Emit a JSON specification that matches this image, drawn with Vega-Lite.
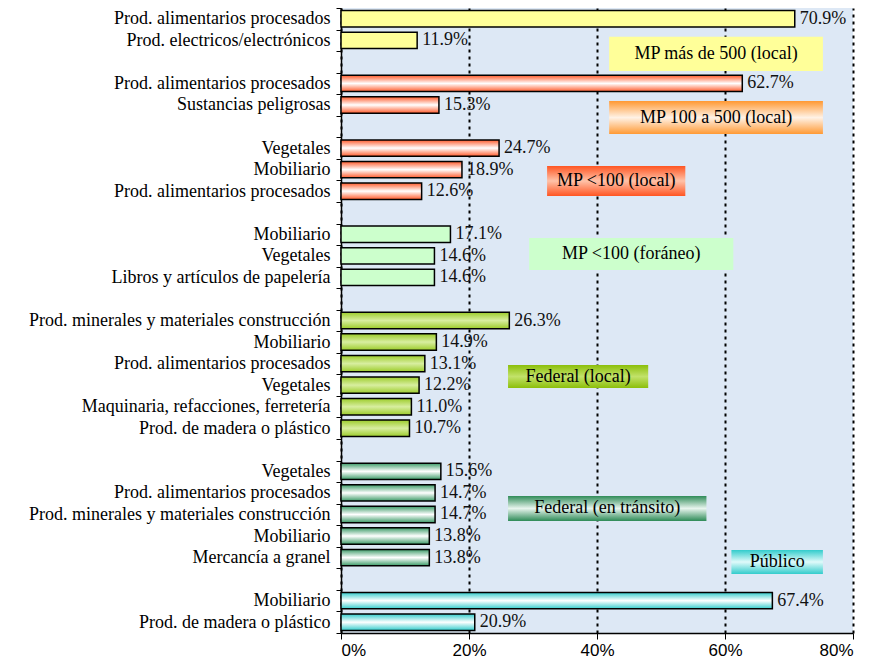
{
  "$schema": "https://vega.github.io/schema/vega-lite/v6.json",
  "autosize": {"type": "none"},
  "padding": {"left": 341, "top": 8, "right": 20, "bottom": 36},
  "width": 512,
  "height": 625,
  "background": "white",
  "config": {"view": {"stroke": null, "fill": "#dde8f5"}},
  "datasets": {
    "bars": [
      {"k": "01 Prod. alimentarios procesados", "g": "A", "v": 0.709},
      {"k": "02 Prod. electricos/electrónicos", "g": "A", "v": 0.119},
      {"k": "04 Prod. alimentarios procesados", "g": "B", "v": 0.627},
      {"k": "05 Sustancias peligrosas", "g": "B", "v": 0.153},
      {"k": "07 Vegetales", "g": "C", "v": 0.247},
      {"k": "08 Mobiliario", "g": "C", "v": 0.189},
      {"k": "09 Prod. alimentarios procesados", "g": "C", "v": 0.126},
      {"k": "11 Mobiliario", "g": "D", "v": 0.171},
      {"k": "12 Vegetales", "g": "D", "v": 0.146},
      {"k": "13 Libros y artículos de papelería", "g": "D", "v": 0.146},
      {"k": "15 Prod. minerales y materiales construcción", "g": "E", "v": 0.263},
      {"k": "16 Mobiliario", "g": "E", "v": 0.149},
      {"k": "17 Prod. alimentarios procesados", "g": "E", "v": 0.131},
      {"k": "18 Vegetales", "g": "E", "v": 0.122},
      {"k": "19 Maquinaria, refacciones, ferretería", "g": "E", "v": 0.110},
      {"k": "20 Prod. de madera o plástico", "g": "E", "v": 0.107},
      {"k": "22 Vegetales", "g": "F", "v": 0.156},
      {"k": "23 Prod. alimentarios procesados", "g": "F", "v": 0.147},
      {"k": "24 Prod. minerales y materiales construcción", "g": "F", "v": 0.147},
      {"k": "25 Mobiliario", "g": "F", "v": 0.138},
      {"k": "26 Mercancía a granel", "g": "F", "v": 0.138},
      {"k": "28 Mobiliario", "g": "G", "v": 0.674},
      {"k": "29 Prod. de madera o plástico", "g": "G", "v": 0.209}
    ],
    "boxes": [
      {"label": "MP más de 500 (local)", "g": "A", "x1": 0.419, "x2": 0.753, "r1": 1.33, "r2": 2.92},
      {"label": "MP 100 a 500 (local)", "g": "B", "x1": 0.419, "x2": 0.753, "r1": 4.32, "r2": 5.85},
      {"label": "MP <100 (local)", "g": "C", "x1": 0.322, "x2": 0.538, "r1": 7.33, "r2": 8.72},
      {"label": "MP <100 (foráneo)", "g": "D", "x1": 0.294, "x2": 0.613, "r1": 10.67, "r2": 12.16},
      {"label": "Federal (local)", "g": "E", "x1": 0.261, "x2": 0.48, "r1": 16.57, "r2": 17.63},
      {"label": "Federal (en  tránsito)", "g": "F", "x1": 0.261, "x2": 0.571, "r1": 22.64, "r2": 23.8},
      {"label": "Público", "g": "G", "x1": 0.61, "x2": 0.753, "r1": 25.15, "r2": 26.26}
    ]
  },
  "layer": [
    {
      "data": {"name": "bars"},
      "encoding": {
        "y": {
          "field": "k", "type": "nominal", "sort": null,
          "scale": {
            "domain": ["01 Prod. alimentarios procesados", "02 Prod. electricos/electrónicos", "03 ", "04 Prod. alimentarios procesados", "05 Sustancias peligrosas", "06 ", "07 Vegetales", "08 Mobiliario", "09 Prod. alimentarios procesados", "10 ", "11 Mobiliario", "12 Vegetales", "13 Libros y artículos de papelería", "14 ", "15 Prod. minerales y materiales construcción", "16 Mobiliario", "17 Prod. alimentarios procesados", "18 Vegetales", "19 Maquinaria, refacciones, ferretería", "20 Prod. de madera o plástico", "21 ", "22 Vegetales", "23 Prod. alimentarios procesados", "24 Prod. minerales y materiales construcción", "25 Mobiliario", "26 Mercancía a granel", "27 ", "28 Mobiliario", "29 Prod. de madera o plástico"],
            "paddingInner": 0, "paddingOuter": 0
          },
          "axis": {
            "title": null, "labelExpr": "datum.value ? substring(datum.value, 3) : ''", "tickBand": "extent",
            "labelFont": "Times New Roman, Liberation Serif, serif", "labelFontSize": 18, "labelColor": "black",
            "labelLimit": 0, "labelPadding": 6, "tickSize": 5, "tickColor": "black",
            "domainColor": "black", "domainWidth": 1.5, "grid": false
          }
        },
        "x": {
          "field": "v", "type": "quantitative",
          "scale": {"domain": [0, 0.8], "nice": false},
          "axis": {
            "title": null, "values": [0, 0.2, 0.4, 0.6, 0.8], "format": ".0%",
            "labelFont": "Liberation Sans", "labelFontSize": 17, "labelColor": "black",
            "tickSize": 6, "tickColor": "black", "domainColor": "black", "domainWidth": 1.5,
            "labelPadding": 3, "grid": true, "gridColor": "black", "gridWidth": 2, "gridDash": [3, 4], "gridOpacity": 1
          }
        }
      },
      "layer": [
        {
          "transform": [{"filter": "datum.g == 'A'"}],
          "mark": {"type": "bar", "height": {"band": 0.76}, "stroke": "black", "strokeWidth": 1.5, "fill": "#ffff99"}
        },
        {
          "transform": [{"filter": "datum.g == 'B' || datum.g == 'C'"}],
          "mark": {"type": "bar", "height": {"band": 0.76}, "stroke": "black", "strokeWidth": 1.5,
            "fill": {"gradient": "linear", "x1": 0, "y1": 0, "x2": 0, "y2": 1, "stops": [{"offset": 0, "color": "#ff5a2a"}, {"offset": 0.5, "color": "#ffffff"}, {"offset": 1, "color": "#ff5a2a"}]}}
        },
        {
          "transform": [{"filter": "datum.g == 'D'"}],
          "mark": {"type": "bar", "height": {"band": 0.76}, "stroke": "black", "strokeWidth": 1.5, "fill": "#ccffcc"}
        },
        {
          "transform": [{"filter": "datum.g == 'E'"}],
          "mark": {"type": "bar", "height": {"band": 0.76}, "stroke": "black", "strokeWidth": 1.5,
            "fill": {"gradient": "linear", "x1": 0, "y1": 0, "x2": 0, "y2": 1, "stops": [{"offset": 0, "color": "#9ccc2a"}, {"offset": 0.5, "color": "#d8eea0"}, {"offset": 1, "color": "#9ccc2a"}]}}
        },
        {
          "transform": [{"filter": "datum.g == 'F'"}],
          "mark": {"type": "bar", "height": {"band": 0.76}, "stroke": "black", "strokeWidth": 1.5,
            "fill": {"gradient": "linear", "x1": 0, "y1": 0, "x2": 0, "y2": 1, "stops": [{"offset": 0, "color": "#3a9a66"}, {"offset": 0.5, "color": "#ffffff"}, {"offset": 1, "color": "#3a9a66"}]}}
        },
        {
          "transform": [{"filter": "datum.g == 'G'"}],
          "mark": {"type": "bar", "height": {"band": 0.76}, "stroke": "black", "strokeWidth": 1.5,
            "fill": {"gradient": "linear", "x1": 0, "y1": 0, "x2": 0, "y2": 1, "stops": [{"offset": 0, "color": "#33cccc"}, {"offset": 0.5, "color": "#ffffff"}, {"offset": 1, "color": "#33cccc"}]}}
        },
        {
          "mark": {"type": "text", "align": "left", "baseline": "middle", "dx": 5, "font": "Times New Roman, Liberation Serif, serif", "fontSize": 18, "color": "#111111"},
          "encoding": {
            "text": {"field": "v", "type": "quantitative", "format": ".1%"}
          }
        }
      ]
    },
    {
      "data": {"name": "boxes"},
      "transform": [{"calculate": "(datum.x1 + datum.x2) / 2", "as": "xm"}, {"calculate": "(datum.r1 + datum.r2) / 2", "as": "rm"}],
      "encoding": {
        "x": {"field": "x1", "type": "quantitative"},
        "x2": {"field": "x2"},
        "y": {"field": "r1", "type": "quantitative", "scale": {"domain": [0, 29], "reverse": true, "nice": false, "zero": false}, "axis": null},
        "y2": {"field": "r2"}
      },
      "layer": [
        {"transform": [{"filter": "datum.g == 'A'"}], "mark": {"type": "rect", "fill": "#ffff99"}},
        {"transform": [{"filter": "datum.g == 'B'"}], "mark": {"type": "rect",
          "fill": {"gradient": "linear", "x1": 0, "y1": 0, "x2": 0, "y2": 1, "stops": [{"offset": 0, "color": "#ff9933"}, {"offset": 0.5, "color": "#fff2e6"}, {"offset": 1, "color": "#ff9933"}]}}},
        {"transform": [{"filter": "datum.g == 'C'"}], "mark": {"type": "rect",
          "fill": {"gradient": "linear", "x1": 0, "y1": 0, "x2": 0, "y2": 1, "stops": [{"offset": 0, "color": "#ff5522"}, {"offset": 0.5, "color": "#ffc2a8"}, {"offset": 1, "color": "#ff5522"}]}}},
        {"transform": [{"filter": "datum.g == 'D'"}], "mark": {"type": "rect", "fill": "#ccffcc"}},
        {"transform": [{"filter": "datum.g == 'E'"}], "mark": {"type": "rect",
          "fill": {"gradient": "linear", "x1": 0, "y1": 0, "x2": 0, "y2": 1, "stops": [{"offset": 0, "color": "#8cbf0a"}, {"offset": 0.5, "color": "#c2e26a"}, {"offset": 1, "color": "#8cbf0a"}]}}},
        {"transform": [{"filter": "datum.g == 'F'"}], "mark": {"type": "rect",
          "fill": {"gradient": "linear", "x1": 0, "y1": 0, "x2": 0, "y2": 1, "stops": [{"offset": 0, "color": "#2e8b57"}, {"offset": 0.5, "color": "#e8f5ee"}, {"offset": 1, "color": "#2e8b57"}]}}},
        {"transform": [{"filter": "datum.g == 'G'"}], "mark": {"type": "rect",
          "fill": {"gradient": "linear", "x1": 0, "y1": 0, "x2": 0, "y2": 1, "stops": [{"offset": 0, "color": "#33cccc"}, {"offset": 0.5, "color": "#e0fafa"}, {"offset": 1, "color": "#33cccc"}]}}},
        {
          "mark": {"type": "text", "align": "center", "baseline": "middle", "font": "Times New Roman, Liberation Serif, serif", "fontSize": 18, "color": "black"},
          "encoding": {
            "x": {"field": "xm", "type": "quantitative"},
            "x2": null,
            "y": {"field": "rm", "type": "quantitative", "scale": {"domain": [0, 29], "reverse": true, "nice": false, "zero": false}, "axis": null},
            "y2": null,
            "text": {"field": "label", "type": "nominal"}
          }
        }
      ]
    }
  ],
  "resolve": {"scale": {"y": "independent"}}
}
